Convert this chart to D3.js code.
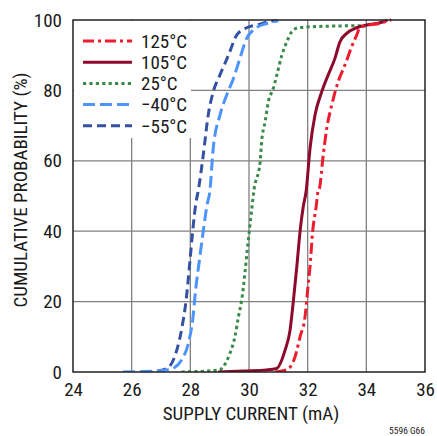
<!DOCTYPE html>
<html><head><meta charset="utf-8">
<script src="https://cdn.jsdelivr.net/npm/d3@7"></script>
<style>
html,body{margin:0;padding:0;background:#fff;}
svg text{font-family:"Liberation Sans Narrow","Roboto Condensed","Liberation Sans",Arial,sans-serif;fill:#1a1a1a;}
</style></head>
<body>
<svg id="c" width="437" height="436"></svg>
<script>
const xTicks = [24, 26, 28, 30, 32, 34, 36];
const yTicks = [0, 20, 40, 60, 80, 100];
const seriesNames = ["125°C", "105°C", "25°C", "\u221240°C", "\u221255°C"];

const t125x = [30.9, 31.28, 31.57, 31.74, 31.91, 32.0, 32.08, 32.17, 32.29, 32.36, 32.4, 32.53, 32.65, 32.82, 33.04, 33.27, 33.5, 33.67, 33.78, 34.1, 34.44, 34.75, 34.85];
const t125y = [0, 0.6, 4.3, 10, 15.7, 23.3, 29.9, 39.9, 47, 51.7, 52.2, 61.6, 69.2, 75.8, 82.5, 87.2, 92.4, 95.7, 97.8, 98.6, 99, 99.8, 100];

const t105x = [28.95, 29.8, 30.6, 30.94, 31.23, 31.4, 31.51, 31.63, 31.74, 31.85, 31.95, 32.08, 32.25, 32.48, 32.7, 32.93, 33.1, 33.33, 33.67, 34.01, 34.35, 34.58, 34.72];
const t105y = [0, 0.3, 0.6, 1, 6.2, 11.9, 20, 29.9, 39.9, 47, 51.5, 63.5, 73, 79.6, 84.4, 89.1, 93.8, 96.2, 97.8, 98.6, 99, 99.5, 100];

const t25x = [27.7, 28.6, 29.0, 29.12, 29.35, 29.52, 29.64, 29.75, 29.86, 29.94, 30.01, 30.09, 30.17, 30.38, 30.43, 30.55, 30.66, 30.83, 30.95, 31.12, 31.29, 31.46, 31.68, 32.5, 34.0];
const t25y = [0, 0.3, 0.6, 1.5, 5.3, 10, 15.7, 20.4, 28, 34.7, 39.9, 46, 51.7, 59.7, 65.4, 71.1, 76.8, 80.6, 84.4, 90, 93.8, 96.7, 97.8, 98.2, 98.4];

const tm40x = [25.7, 26.6, 27.2, 27.45, 27.7, 27.93, 28.08, 28.18, 28.31, 28.44, 28.58, 28.66, 28.78, 29.01, 29.24, 29.47, 29.69, 29.92, 30.15, 30.6, 31.0];
const tm40y = [0, 0.2, 0.6, 1.2, 3.4, 8.1, 14.8, 23.3, 31.8, 40, 47.9, 51, 63.5, 73, 78.7, 83.4, 89.1, 94.8, 97.2, 99, 99.8];

const tm55x = [26.4, 26.9, 27.2, 27.42, 27.7, 27.85, 27.99, 28.08, 28.19, 28.27, 28.44, 28.61, 28.78, 29.01, 29.3, 29.58, 29.92, 30.38, 30.72, 30.94];
const tm55y = [0, 0.3, 1, 3.4, 12, 20, 31.8, 40, 48, 51.5, 61.6, 73, 79.6, 84.4, 90, 95.7, 97.8, 98.8, 99.7, 99.8];

const colors = ["#ee1c2e", "#8e0a2c", "#3a8a4a", "#4d94ff", "#3451a3"];
const dashes = ["11,4,3,4", null, "3.2,3.2", "12,5", "9,5"];
const xs = [t125x, t105x, t25x, tm40x, tm55x];
const ys = [t125y, t105y, t25y, tm40y, tm55y];

const svg = d3.select("#c");
const L = 73, R = 425, T = 20, B = 372;
const x = d3.scaleLinear().domain([24, 36]).range([L, R]);
const y = d3.scaleLinear().domain([0, 100]).range([B, T]);

// grid
const grid = svg.append("g");
grid.selectAll("line.v").data(xTicks.slice(1, -1)).enter().append("line")
  .attr("x1", d => x(d)).attr("x2", d => x(d)).attr("y1", T).attr("y2", B)
  .attr("stroke", "#808080").attr("stroke-width", 1.3);
grid.selectAll("line.h").data(yTicks.slice(1, -1)).enter().append("line")
  .attr("y1", d => y(d)).attr("y2", d => y(d)).attr("x1", L).attr("x2", R)
  .attr("stroke", "#808080").attr("stroke-width", 1.3);

// legend background
svg.append("rect").attr("x", L + 1).attr("y", T + 1).attr("width", 117).attr("height", 117).attr("fill", "#fff");

// clip
svg.append("clipPath").attr("id", "clip").append("rect").attr("x", L).attr("y", T - 2).attr("width", R - L).attr("height", B - T + 2);

const line = d3.line().x(d => x(d[0])).y(d => y(d[1])).curve(d3.curveMonotoneX);
const order = [2, 4, 3, 1, 0];
const g = svg.append("g").attr("clip-path", "url(#clip)");
order.forEach(i => {
  const pts = xs[i].map((v, k) => [v, ys[i][k]]);
  g.append("path").datum(pts).attr("d", line)
    .attr("fill", "none").attr("stroke", colors[i]).attr("stroke-width", 3)
    .attr("stroke-dasharray", dashes[i]).attr("stroke-linejoin", "round");
});

// frame
svg.append("rect").attr("x", L).attr("y", T).attr("width", R - L).attr("height", B - T)
  .attr("fill", "none").attr("stroke", "#222").attr("stroke-width", 1.5);

// axes
const xAxis = svg.append("g").attr("transform", `translate(0,${B})`)
  .call(d3.axisBottom(x).tickValues(xTicks).tickSize(0).tickPadding(10).tickFormat(d3.format("d")));
xAxis.select(".domain").remove();
xAxis.selectAll("text").attr("font-size", 19).attr("dy", "0.71em").attr("y", 11);

const yAxis = svg.append("g").attr("transform", `translate(${L},0)`)
  .call(d3.axisLeft(y).tickValues(yTicks).tickSize(0).tickPadding(10).tickFormat(d3.format("d")));
yAxis.select(".domain").remove();
yAxis.selectAll("text").attr("font-size", 19).attr("x", -11);

// titles
svg.append("text").attr("x", 251).attr("y", 420).attr("text-anchor", "middle")
  .attr("font-size", 19).text("SUPPLY CURRENT (mA)");
svg.append("text").attr("transform", "translate(27,190) rotate(-90)").attr("text-anchor", "middle")
  .attr("font-size", 19).text("CUMULATIVE PROBABILITY (%)");
svg.append("text").attr("x", 425).attr("y", 434).attr("text-anchor", "end")
  .attr("font-size", 9.5).text("5596 G66");

// legend
const leg = svg.append("g");
seriesNames.forEach((name, i) => {
  const yy = 41 + i * 21.2;
  leg.append("line").attr("x1", 83).attr("x2", 132).attr("y1", yy).attr("y2", yy)
    .attr("stroke", colors[i]).attr("stroke-width", 3).attr("stroke-dasharray", dashes[i]);
  leg.append("text").attr("x", 141).attr("y", yy).attr("dy", "0.36em")
    .attr("font-size", 19).text(name);
});
</script>
</body></html>
